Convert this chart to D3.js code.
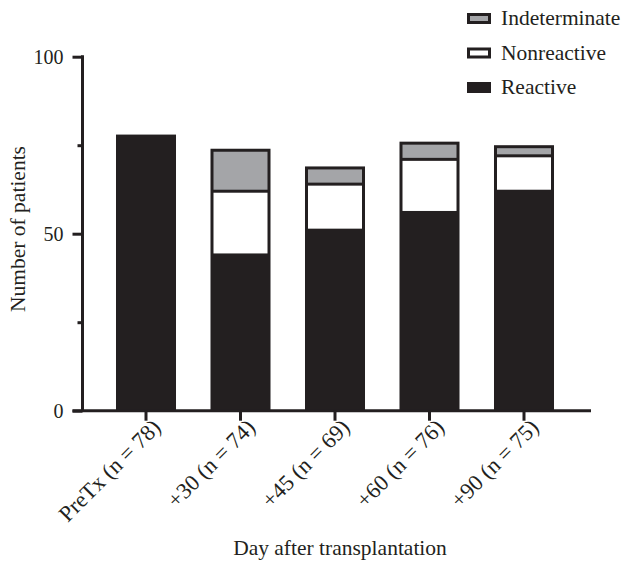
<!DOCTYPE html>
<html>
<head>
<meta charset="utf-8">
<script src="https://cdn.jsdelivr.net/npm/d3@7"></script>
<style>
  html, body { margin: 0; padding: 0; background: #fff; }
  svg text { font-family: "Liberation Serif", "Times New Roman", serif; fill: #231f20; }
</style>
</head>
<body>
<svg id="chart" width="624" height="561"></svg>
<script>
// Patients per visit, split by test result
const categories = ["PreTx (n = 78)", "+30 (n = 74)", "+45 (n = 69)", "+60 (n = 76)", "+90 (n = 75)"];
const reactive = [78, 44, 51, 56, 62];
const nonreactive = [0, 18, 13, 15, 10];
const indeterminate = [0, 12, 5, 5, 3];
const seriesNames = ["Reactive", "Nonreactive", "Indeterminate"];
const yTicks = [0, 25, 50, 75, 100];
const yLabelTicks = [0, 50, 100];

const dark = "#231f20";
const colors = { Reactive: dark, Nonreactive: "#ffffff", Indeterminate: "#a4a5a8" };

const rows = categories.map((c, i) => ({
  cat: c, Reactive: reactive[i], Nonreactive: nonreactive[i], Indeterminate: indeterminate[i]
}));
const stacked = d3.stack().keys(seriesNames)(rows);

const svg = d3.select("#chart");
const axisX = 82.5, baseY = 410.7, topY = 56.7, axisEnd = 591;

const x = d3.scaleBand().domain(categories).range([98.75, 571.25]).paddingInner(0.365).paddingOuter(0.1825);
const y = d3.scaleLinear().domain([0, 100]).range([baseY, topY]);

const sw = 3; // outline width of bar segments
const total = d => d.Reactive + d.Nonreactive + d.Indeterminate;

// bars: dark body for the full stack, lighter segments inset inside it
svg.append("g").selectAll("rect").data(rows).join("rect")
  .attr("x", d => x(d.cat))
  .attr("width", x.bandwidth())
  .attr("y", d => y(total(d)))
  .attr("height", d => y(0) - y(total(d)))
  .attr("fill", dark);

stacked.filter(s => s.key !== "Reactive").forEach(s => {
  const top = d => y(d[1]) + (Math.abs(d[1] - total(d.data)) < 1e-9 ? sw : sw / 2);
  svg.append("g").selectAll("rect").data(s.filter(d => d[1] > d[0])).join("rect")
    .attr("x", d => x(d.data.cat) + sw)
    .attr("width", x.bandwidth() - 2 * sw)
    .attr("y", top)
    .attr("height", d => (y(d[0]) - sw / 2) - top(d))
    .attr("fill", colors[s.key]);
});

// y axis
const yAxis = d3.axisLeft(y).tickValues(yTicks)
  .tickFormat(d => yLabelTicks.includes(d) ? d : "")
  .tickSize(10).tickSizeOuter(0).tickPadding(9);
const gy = svg.append("g").attr("transform", `translate(${axisX},0)`).call(yAxis);
gy.select(".domain").attr("stroke", dark).attr("stroke-width", 3)
  .attr("d", `M0,${topY - 1.5}V${baseY}`);
gy.selectAll(".tick line").attr("stroke", dark).attr("stroke-width", 3)
  .attr("x2", d => yLabelTicks.includes(d) ? -10 : -5);
gy.selectAll(".tick text").attr("font-size", 20).style("font-family", "Liberation Serif").attr("fill", "#231f20");

// x axis
const xAxis = d3.axisBottom(x).tickSize(10).tickSizeOuter(0).tickPadding(4);
const gx = svg.append("g").attr("transform", `translate(0,${baseY})`).call(xAxis);
gx.select(".domain").attr("stroke", dark).attr("stroke-width", 3)
  .attr("d", `M${axisX - 10},0H${axisEnd}`);
gx.selectAll(".tick line").attr("stroke", dark).attr("stroke-width", 3);
gx.selectAll(".tick text")
  .attr("font-size", 22.5).style("font-family", "Liberation Serif").attr("fill", "#231f20")
  .attr("text-anchor", "end")
  .attr("dy", null)
  .attr("transform", "translate(16,18) rotate(-45)")
  .attr("y", 0).attr("x", 0);

// axis titles
svg.append("text")
  .attr("transform", `translate(25,229) rotate(-90)`)
  .attr("text-anchor", "middle")
  .attr("font-size", 21.5)
  .text("Number of patients");
svg.append("text")
  .attr("x", 340).attr("y", 555)
  .attr("text-anchor", "middle")
  .attr("font-size", 21.5)
  .text("Day after transplantation");

// legend
const legendItems = ["Indeterminate", "Nonreactive", "Reactive"];
const legendY = d3.scalePoint().domain(legendItems).range([18, 87]);
const lg = svg.append("g");
legendItems.forEach(k => {
  const cy = legendY(k);
  lg.append("rect").attr("x", 467).attr("y", cy - 5).attr("width", 24).attr("height", 11).attr("fill", dark);
  if (k !== "Reactive") {
    lg.append("rect").attr("x", 470).attr("y", cy - 2).attr("width", 18).attr("height", 5).attr("fill", colors[k]);
  }
  lg.append("text").attr("x", 501).attr("y", cy + 7).attr("font-size", 21.5).text(k);
});
</script>
</body>
</html>
